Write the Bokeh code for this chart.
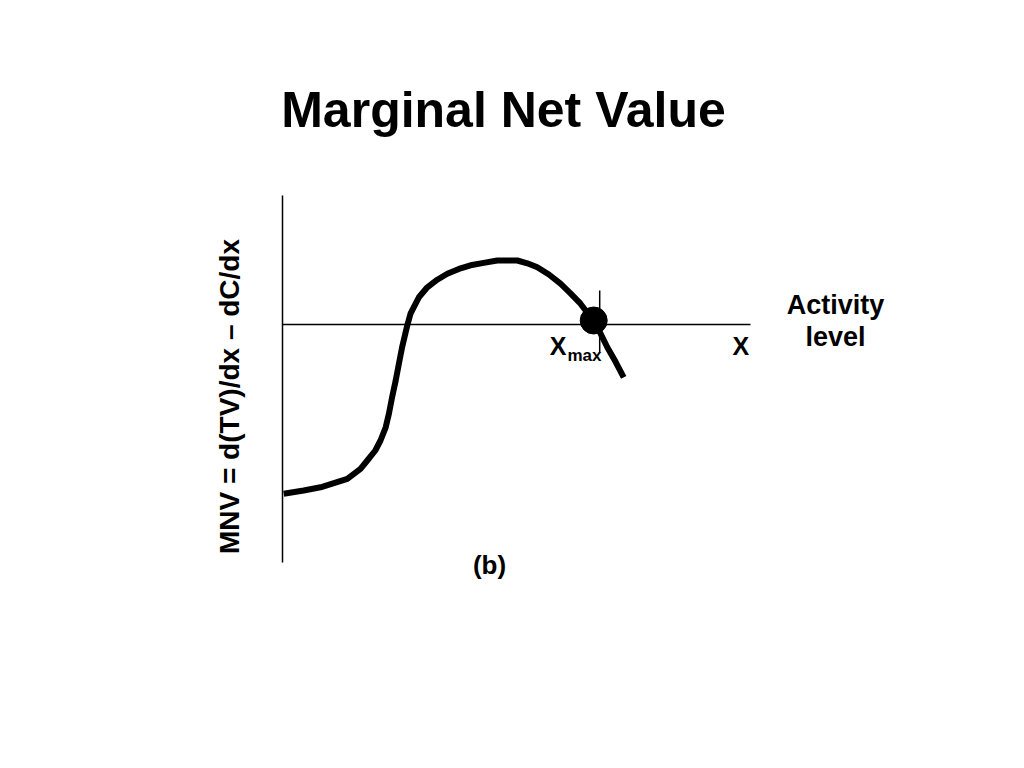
from bokeh.plotting import figure
from bokeh.models import Label, Range1d
from bokeh.embed import file_html
from bokeh.resources import INLINE
import math

# ---- data (activity level x, marginal net value) ----
curve_x = [0.03, 0.53, 0.95, 1.62, 1.95, 2.12, 2.32, 2.45, 2.58, 2.66, 2.74, 2.83,
           2.91, 2.99, 3.12, 3.20, 3.28, 3.41, 3.62, 3.87, 4.12, 4.41, 4.70, 5.03,
           5.37, 5.87, 6.12, 6.37, 6.66, 6.95, 7.20, 7.45, 7.83, 8.12, 8.33, 8.53]
curve_y = [-4.23, -4.15, -4.07, -3.86, -3.61, -3.40, -3.15, -2.90, -2.57, -2.23, -1.82, -1.40,
           -0.98, -0.57, -0.02, 0.27, 0.43, 0.68, 0.93, 1.12, 1.27, 1.39, 1.48, 1.54,
           1.60, 1.60, 1.53, 1.43, 1.25, 1.02, 0.78, 0.52, 0.02, -0.57, -0.94, -1.32]

xmax_point_x = [7.78]
xmax_point_y = [0.10]

xmax_tick_x = [7.93, 7.93]
xmax_tick_y = [0.85, -0.70]

yaxis_x = [0.0, 0.0]
yaxis_y = [3.225, -5.95]
xaxis_x = [0.0, 11.7]
xaxis_y = [0.0, 0.0]

title_text = "Marginal Net Value"
ylabel_text = "MNV = d(TV)/dx \u2013 dC/dx"
xlabel_lines = ["Activity", "level"]
x_symbol = "X"
xmax_main = "X"
xmax_sub = "max"
panel_text = "(b)"

FONT = "Liberation Sans"

p = figure(width=1008, height=752, output_backend="svg", toolbar_location=None,
           x_range=Range1d(-7.05, 18.15), y_range=Range1d(-10.7, 8.1),
           min_border=0, min_border_left=0, min_border_right=0,
           min_border_top=0, min_border_bottom=0)
p.axis.visible = False
p.grid.visible = False
p.outline_line_color = None
p.background_fill_color = "white"
p.border_fill_color = "white"

# axes
p.line(yaxis_x, yaxis_y, line_color="black", line_width=1.5)
p.line(xaxis_x, xaxis_y, line_color="black", line_width=1.5)
p.line(xmax_tick_x, xmax_tick_y, line_color="black", line_width=1.5)

# curve
p.line(curve_x, curve_y, line_color="black", line_width=6,
       line_join="round", line_cap="butt")

# optimum point
p.scatter(xmax_point_x, xmax_point_y, size=27, color="black")

def lab(x, y, text, size, align="center", angle=0.0):
    p.add_layout(Label(x=x, y=y, text=text, text_font=FONT, text_font_style="bold",
                       text_font_size=size, text_align=align,
                       text_baseline="alphabetic", text_color="black", angle=angle))

lab(5.525, 5.375, title_text, "50px")
lab(13.825, 0.49, xlabel_lines[0], "27px")
lab(13.825, -0.31, xlabel_lines[1], "27px")
lab(11.46, -0.53, x_symbol, "25px")
lab(6.89, -0.53, xmax_main, "25px")
lab(7.125, -0.78, xmax_sub, "17px", align="left")
lab(5.175, -6.0, panel_text, "26px")
lab(-1.33, -1.80, ylabel_text, "28px", angle=math.pi / 2)

open("out.html", "w").write(file_html(p, INLINE))
